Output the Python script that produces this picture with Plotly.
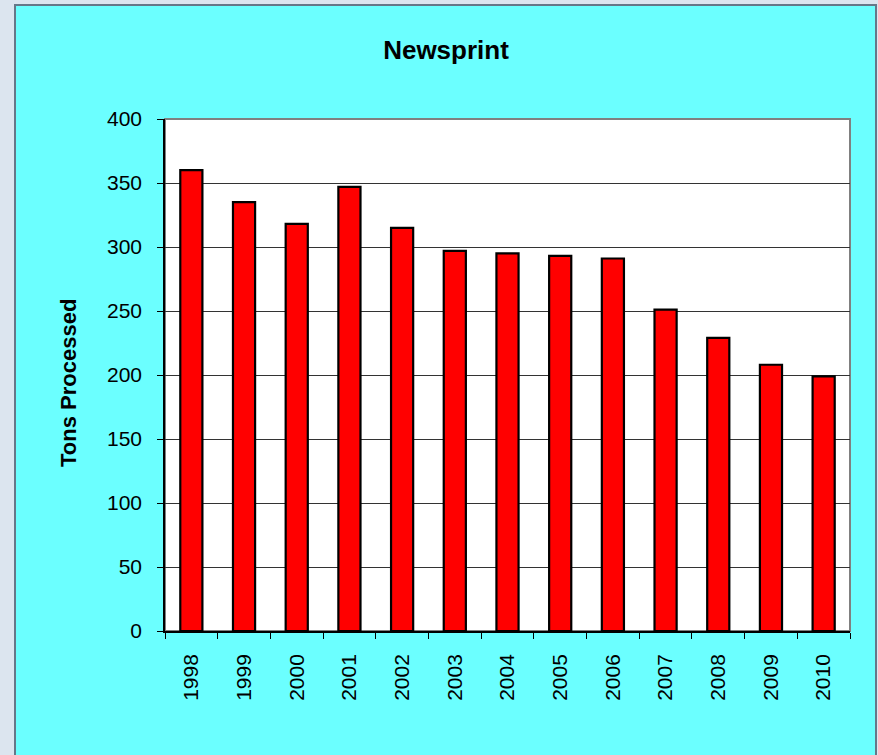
import plotly.graph_objects as go

years = ["1998", "1999", "2000", "2001", "2002", "2003", "2004",
         "2005", "2006", "2007", "2008", "2009", "2010"]
tons = [360, 335, 318, 347, 315, 297, 295, 293, 291, 251, 229, 208, 199]
y_ticks = [0, 50, 100, 150, 200, 250, 300, 350, 400]

W, H = 878, 755
L, R, T, B = 165, 28, 119, 124
PW, PH = W - L - R, H - T - B


def px(x):
    return (x - L) / PW


def py(y):
    return (H - B - y) / PH


FONT = "Liberation Sans, Arial, sans-serif"

fig = go.Figure()
fig.add_trace(go.Bar(
    x=years, y=tons,
    marker=dict(color="#FF0000", line=dict(color="#000000", width=2.2)),
    hoverinfo="x+y",
))

shapes = [
    # cyan chart area
    dict(type="rect", xref="paper", yref="paper", layer="below",
         x0=px(15), x1=px(876), y0=py(780), y1=py(5),
         fillcolor="#6BFFFF", line=dict(color="#667788", width=2)),
    # white plot area with grey frame
    dict(type="rect", xref="paper", yref="paper", layer="below",
         x0=0, x1=1, y0=0, y1=1,
         fillcolor="#FFFFFF", line=dict(color="#808080", width=2)),
]

fig.update_layout(
    width=W, height=H,
    margin=dict(l=L, r=R, t=T, b=B, pad=0),
    paper_bgcolor="#DCE5EF",
    plot_bgcolor="rgba(0,0,0,0)",
    showlegend=False,
    bargap=0.58,
    shapes=shapes,
    font=dict(family=FONT, color="#000000"),
    title=dict(text="<b>Newsprint</b>", x=446 / W, xref="container",
               xanchor="center", y=1 - 50 / H, yref="container",
               yanchor="middle", font=dict(size=26, family=FONT)),
    annotations=[dict(text="<b>Tons Processed</b>", xref="paper", yref="paper",
                      x=px(68), y=py(383), textangle=-90, showarrow=False,
                      xanchor="center", yanchor="middle",
                      font=dict(size=22, family=FONT))],
    xaxis=dict(
        type="category", range=[-0.5, 12.5],
        showline=True, linecolor="#000000", linewidth=1.5,
        ticks="outside", tickson="boundaries", ticklen=6, tickcolor="#000000",
        tickangle=-90, tickfont=dict(size=21, family=FONT),
        ticklabelstandoff=13, showgrid=False, zeroline=False,
    ),
    yaxis=dict(
        range=[0, 400], tickvals=y_ticks,
        showline=True, linecolor="#000000", linewidth=1.5,
        ticks="outside", ticklen=6, tickcolor="#000000",
        tickfont=dict(size=21, family=FONT), ticklabelstandoff=11,
        showgrid=True, gridcolor="#333333", gridwidth=1, zeroline=False,
    ),
)

fig.write_html(
    "out.html",
    config={"displayModeBar": False},
    post_script="document.body.style.margin='0';"
                "document.body.style.overflow='hidden';",
)
